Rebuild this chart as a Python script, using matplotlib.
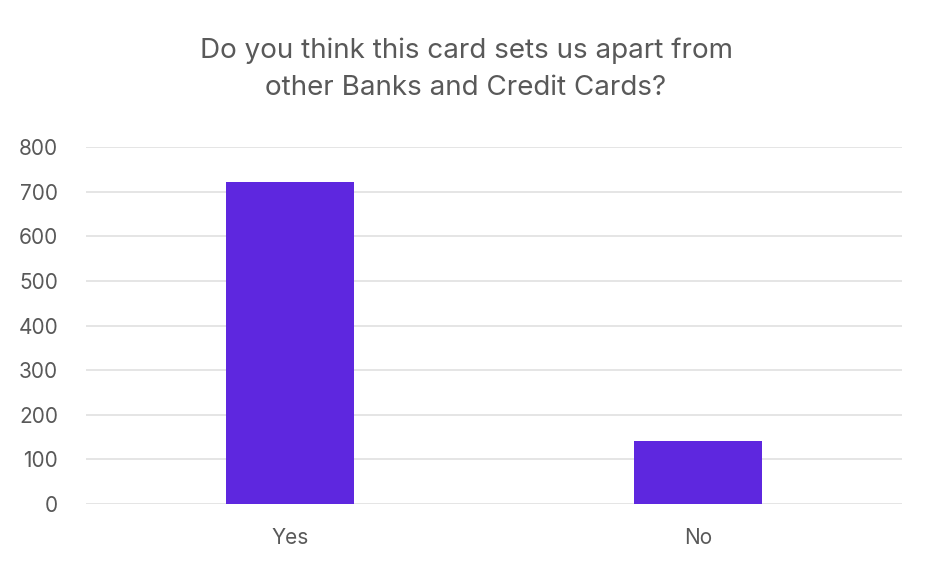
import matplotlib
matplotlib.use("Agg")
import matplotlib.pyplot as plt

categories = ["Yes", "No"]
values = [722, 142]
yticks = [0, 100, 200, 300, 400, 500, 600, 700, 800]
title = "Do you think this card sets us apart from\nother Banks and Credit Cards?"

plt.rcParams['font.family'] = ['Inter', 'DejaVu Sans']
text_color = "#595959"
bar_color = "#5E27DF"

fig = plt.figure(figsize=(9.32, 5.70), dpi=100)
ax = fig.add_axes([86/932, 66/570, 816/932, 357/570])
x = list(range(len(categories)))
ax.bar(x, values, width=0.314, color=bar_color, zorder=3)
ax.set_xlim(-0.5, len(categories) - 0.5)
ax.set_ylim(0, 800)
ax.set_yticks(yticks)
ax.set_yticklabels([str(t) for t in yticks])
ax.set_xticks(x)
ax.set_xticklabels(categories)
ax.grid(axis='y', color="#E0E0E0", linewidth=1.2, zorder=0)
for s in ax.spines.values():
    s.set_visible(False)
ax.tick_params(axis='both', length=0, labelsize=15, labelcolor=text_color)
ax.tick_params(axis='y', pad=20)
ax.tick_params(axis='x', pad=17)
for lbl in ax.get_yticklabels():
    lbl.set_horizontalalignment('right')
fig.text(466/932, 1 - 69/570, title, ha='center', va='center', fontsize=20,
         color=text_color, linespacing=1.55)
fig.savefig("out.png", dpi=100)
